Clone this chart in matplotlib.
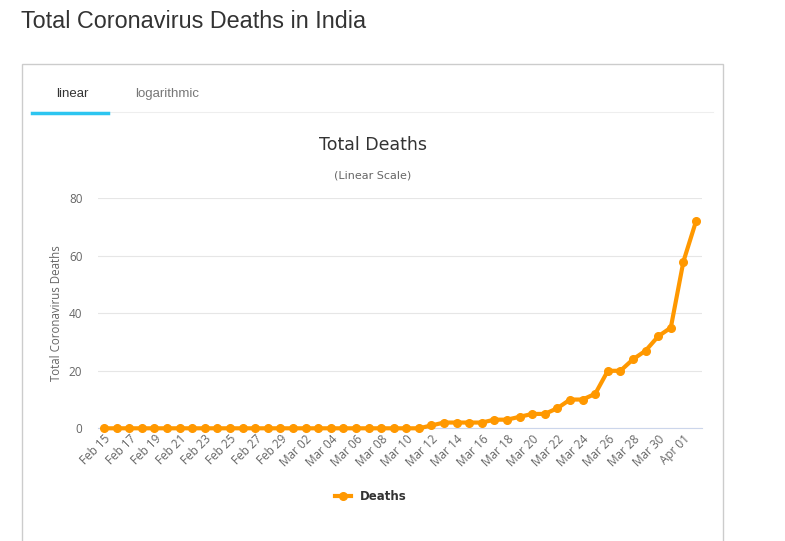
import matplotlib
matplotlib.use("Agg")
import matplotlib.pyplot as plt
from matplotlib.patches import Rectangle
from matplotlib.lines import Line2D

# dagen van Feb 15 tot Apr 02
dagen = (["Feb %02d" % d for d in range(15, 30)]
         + ["Mar %02d" % d for d in range(1, 32)]
         + ["Apr %02d" % d for d in range(1, 3)])
doden = [0] * 26 + [1, 2, 2, 2, 2, 3, 3, 4, 5, 5, 7, 10, 10, 12,
                    20, 20, 24, 27, 32, 35, 58, 72]

W, H = 785, 541
fig = plt.figure(figsize=(W / 100, H / 100), dpi=100)

def fx(px):
    return px / W

def fy(py):
    return 1 - py / H

# paginatitel
fig.text(fx(21), fy(21), "Total Coronavirus Deaths in India", fontsize=16.8,
         family="Liberation Sans", color="#333333", va="center", ha="left")

# kader rond de grafiek
fig.patches.append(Rectangle((fx(22), fy(560)), fx(701), (560 - 64) / H,
                             transform=fig.transFigure, fill=False,
                             edgecolor="#cccccc", linewidth=1))
# tabs
fig.text(fx(72), fy(94), "linear", fontsize=9.5, family="Liberation Sans",
         color="#333333", ha="center", va="center")
fig.text(fx(167), fy(94), "logarithmic", fontsize=9.5, family="Liberation Sans",
         color="#777777", ha="center", va="center")
fig.add_artist(Line2D([fx(32), fx(713)], [fy(112), fy(112)],
                      transform=fig.transFigure, color="#eeeeee", lw=0.8))
fig.add_artist(Line2D([fx(32), fx(108)], [fy(113), fy(113)],
                      transform=fig.transFigure, color="#2dc5f0", lw=2.5))

# titels van de grafiek
fig.text(fx(373), fy(145), "Total Deaths", fontsize=12.5, family="DejaVu Sans",
         color="#333333", ha="center", va="center")
fig.text(fx(373), fy(176), "(Linear Scale)", fontsize=8, family="DejaVu Sans",
         color="#666666", ha="center", va="center")

left, right, top, bottom = 97.7, 702.3, 198.3, 428.3
ax = fig.add_axes([fx(left), fy(bottom), fx(right - left), (bottom - top) / H])

x = list(range(len(dagen)))
ax.plot(x, doden, color="#ff9800", lw=3, marker="o", markersize=5.5,
        solid_joinstyle="round", zorder=3, clip_on=False, label="Deaths")

ax.set_xlim(-0.5, len(dagen) - 0.5)
ax.set_ylim(0, 80)
ax.set_yticks([0, 20, 40, 60, 80])
ax.yaxis.grid(True, color="#e6e6e6", lw=0.8)
ax.set_axisbelow(True)
for s in ["top", "right", "left"]:
    ax.spines[s].set_visible(False)
ax.spines["bottom"].set_color("#ccd6eb")
ax.tick_params(axis="y", length=0, pad=11, labelsize=8.5, labelcolor="#666666")
ax.tick_params(axis="x", length=0, pad=3, labelsize=8.5, labelcolor="#666666")
ax.set_xticks(x[::2])
ax.set_xticklabels(dagen[::2], rotation=45, ha="right", rotation_mode="anchor",
                   family="Open Sans")
for lab in ax.get_yticklabels():
    lab.set_family("Open Sans")
ax.set_ylabel("Total Coronavirus Deaths", fontsize=8.3, color="#666666",
              family="Open Sans", labelpad=4)

leg = fig.legend(handles=[Line2D([], [], color="#ff9800", lw=3, marker="o",
                                 markersize=5.5)],
                 labels=["Deaths"], loc="center", bbox_to_anchor=(fx(371), fy(497)),
                 frameon=False, handlelength=1.3, prop={"weight": "bold", "size": 8.5})
for t in leg.get_texts():
    t.set_color("#333333")

fig.savefig("out.png", dpi=100)
